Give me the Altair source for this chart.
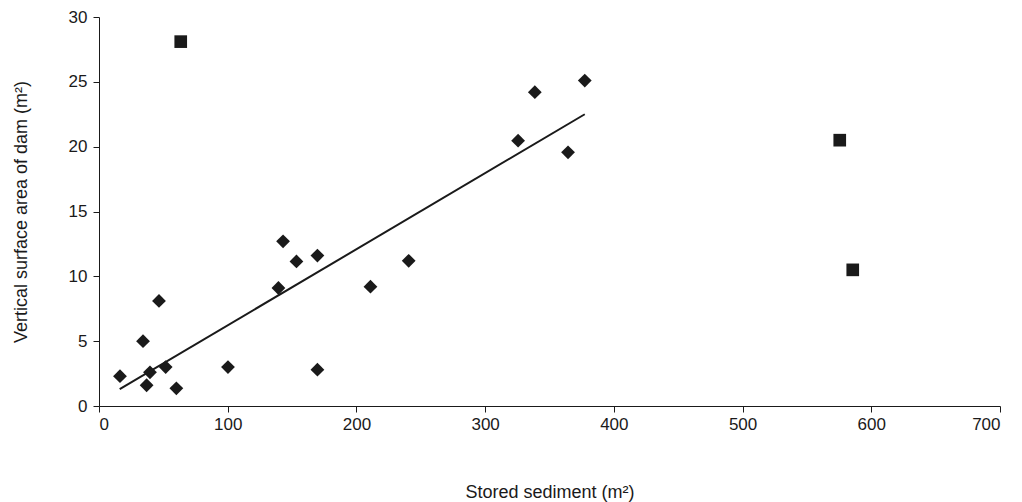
import altair as alt
import pandas as pd

# Diamonds (main dataset)
dx = [16.3, 34.2, 37.0, 39.6, 46.6, 51.8, 60.1, 100.2, 139.4, 143.0, 153.4, 169.7, 169.7, 210.9, 240.6, 325.6, 338.6, 364.4, 377.4]
dy = [2.3, 5.0, 1.6, 2.6, 8.1, 3.0, 1.36, 3.0, 9.1, 12.7, 11.15, 11.6, 2.8, 9.2, 11.2, 20.46, 24.2, 19.56, 25.1]
# Squares (outliers)
sx = [63.5, 575.5, 585.6]
sy = [28.1, 20.5, 10.5]
# Trend line endpoints
tx = [16.1, 377.4]
ty = [1.3, 22.5]

dia = pd.DataFrame({"x": dx, "y": dy})
sq = pd.DataFrame({"x": sx, "y": sy})
tr = pd.DataFrame({"x": tx, "y": ty})

xs = alt.Scale(domain=[0, 700], nice=False)
ys = alt.Scale(domain=[0, 30], nice=False)

xax = alt.Axis(values=[0, 100, 200, 300, 400, 500, 600, 700], title="Stored sediment (m²)",
               titlePadding=51, labelPadding=4)
yax = alt.Axis(values=[0, 5, 10, 15, 20, 25, 30], title="Vertical surface area of dam (m²)",
               titlePadding=38, labelPadding=6, labelAlign="right")

base_x = alt.X("x:Q", scale=xs, axis=xax)
base_y = alt.Y("y:Q", scale=ys, axis=yax)

d = alt.Chart(dia).mark_point(shape="diamond", filled=True, size=190, color="#1a1a1a", opacity=1).encode(x=base_x, y=base_y)
s = alt.Chart(sq).mark_point(shape="square", filled=True, size=160, color="#1a1a1a", opacity=1).encode(x=base_x, y=base_y)
l = alt.Chart(tr).mark_line(color="#1a1a1a", strokeWidth=2).encode(x=base_x, y=base_y)

chart = alt.layer(l, d, s).properties(
    width=901, height=389,
    autosize=alt.AutoSizeParams(type="none"),
    padding={"left": 91, "top": 9, "right": 14, "bottom": 100},
    background="white",
).configure_view(stroke=None).configure_axis(
    grid=False, domainColor="#1a1a1a", tickColor="#1a1a1a", tickSize=6,
    labelFont="Liberation Sans", titleFont="Liberation Sans",
    labelFontSize=17, titleFontSize=18, labelColor="#1a1a1a", titleColor="#1a1a1a",
    titleFontWeight="normal",
)

chart.save("out.html", embed_options={"renderer": "svg", "actions": False})
